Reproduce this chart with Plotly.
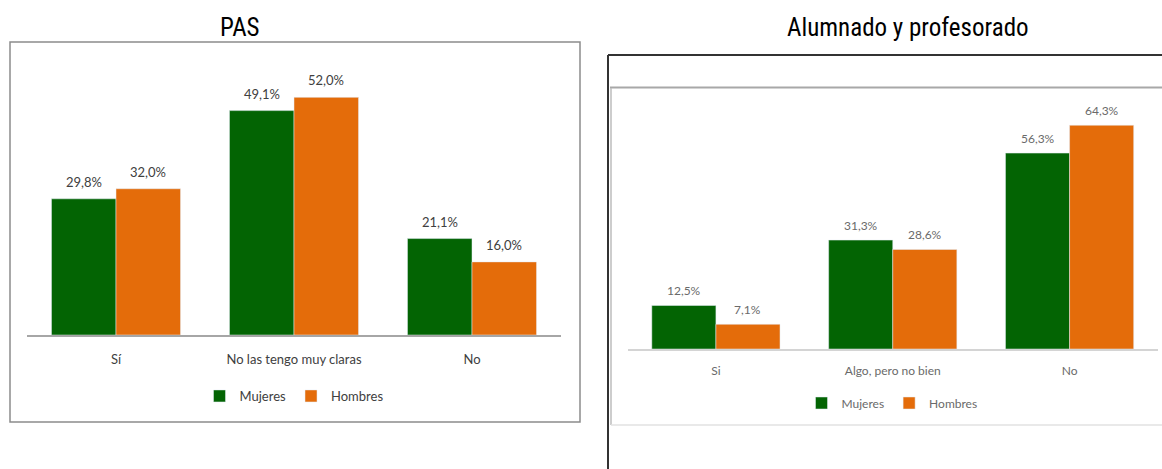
import plotly.graph_objects as go

W, H = 1162, 469

cats_pas = ["Sí", "No las tengo muy claras", "No"]
mujeres_pas = [29.8, 49.1, 21.1]
hombres_pas = [32.0, 52.0, 16.0]

cats_alu = ["Si", "Algo, pero no bien", "No"]
mujeres_alu = [12.5, 31.3, 56.3]
hombres_alu = [7.1, 28.6, 64.3]

GREEN = "#036403"
ORANGE = "#E46C0A"
LBL = "Lato, 'Open Sans', sans-serif"
TITLE_FONT = "'Liberation Sans Narrow', 'Arial Narrow', 'Roboto Condensed', 'DejaVu Sans Condensed', sans-serif"


def px(x):
    return x / W


def py(y):
    return 1 - y / H


def fmt(v):
    return f"{v:.1f}%".replace(".", ",")


fig = go.Figure()

# Left chart (PAS)
fig.add_trace(go.Bar(x=cats_pas, y=mujeres_pas, name="Mujeres", marker_color=GREEN,
                     xaxis="x", yaxis="y", legend="legend", hoverinfo="skip"))
fig.add_trace(go.Bar(x=cats_pas, y=hombres_pas, name="Hombres", marker_color=ORANGE,
                     xaxis="x", yaxis="y", legend="legend", hoverinfo="skip"))
# Right chart
fig.add_trace(go.Bar(x=cats_alu, y=mujeres_alu, name="Mujeres", marker_color=GREEN,
                     xaxis="x2", yaxis="y2", legend="legend2", hoverinfo="skip"))
fig.add_trace(go.Bar(x=cats_alu, y=hombres_alu, name="Hombres", marker_color=ORANGE,
                     xaxis="x2", yaxis="y2", legend="legend2", hoverinfo="skip"))

annotations = []
for cats, m, h, xr, yr, col, ys, sz in [
    (cats_pas, mujeres_pas, hombres_pas, "x", "y", "#404040", 17, 13),
    (cats_alu, mujeres_alu, hombres_alu, "x2", "y2", "#6a6a6a", 15, 12),
]:
    for c, vm, vh in zip(cats, m, h):
        annotations.append(dict(x=c, y=vm, xref=xr, yref=yr, text=fmt(vm), showarrow=False,
                                xanchor="center", yanchor="middle",
                                xshift=-32, yshift=ys, font=dict(family=LBL, size=sz, color=col)))
        annotations.append(dict(x=c, y=vh, xref=xr, yref=yr, text=fmt(vh), showarrow=False,
                                xanchor="center", yanchor="middle",
                                xshift=32, yshift=ys, font=dict(family=LBL, size=sz, color=col)))

annotations.append(dict(x=px(240), y=py(27), xref="paper", yref="paper", text="PAS",
                        xanchor="center", yanchor="middle",
                        showarrow=False, font=dict(family=TITLE_FONT, size=25, color="black")))
annotations.append(dict(x=px(908), y=py(28), xref="paper", yref="paper", text="Alumnado y profesorado",
                        xanchor="center", yanchor="middle",
                        showarrow=False, font=dict(family=TITLE_FONT, size=25, color="black")))

shapes = [
    # left box
    dict(type="rect", xref="paper", yref="paper", x0=px(10), x1=px(580), y0=py(422), y1=py(42),
         line=dict(color="#8c8c8c", width=1.5), layer="below"),
    # right frame
    dict(type="line", xref="paper", yref="paper", x0=px(608), x1=px(1162), y0=py(55), y1=py(55),
         line=dict(color="#333333", width=2)),
    dict(type="line", xref="paper", yref="paper", x0=px(608), x1=px(608), y0=py(55), y1=py(469),
         line=dict(color="#333333", width=2)),
    dict(type="line", xref="paper", yref="paper", x0=px(610), x1=px(1162), y0=py(87.5), y1=py(87.5),
         line=dict(color="#a8a8a8", width=2)),
    dict(type="line", xref="paper", yref="paper", x0=px(611), x1=px(611), y0=py(88), y1=py(425),
         line=dict(color="#bdbdbd", width=1.5)),
    dict(type="line", xref="paper", yref="paper", x0=px(611), x1=px(1162), y0=py(425), y1=py(425),
         line=dict(color="#e2e2e2", width=1.5)),
]

fig.update_layout(
    width=W, height=H,
    margin=dict(l=0, r=0, t=0, b=0),
    paper_bgcolor="white", plot_bgcolor="rgba(0,0,0,0)",
    barmode="group", bargap=0.275, bargroupgap=0,
    showlegend=True,
    annotations=annotations,
    shapes=shapes,
    xaxis=dict(domain=[px(27), px(561)], anchor="y", showline=True, linecolor="#a6a6a6", linewidth=1.5,
               ticks="", showgrid=False, zeroline=False, ticklabelstandoff=12,
               tickfont=dict(family=LBL, size=13, color="#404040"), fixedrange=True),
    yaxis=dict(domain=[py(335), py(50)], anchor="x", range=[0, (335 - 50) / 4.57], visible=False,
               fixedrange=True),
    xaxis2=dict(domain=[px(627.5), px(1158)], anchor="y2", showline=True, linecolor="#d4d4d4", linewidth=2,
                ticks="", showgrid=False, zeroline=False, ticklabelstandoff=10,
                tickfont=dict(family=LBL, size=12, color="#6a6a6a"), fixedrange=True),
    yaxis2=dict(domain=[py(349), py(100)], anchor="x2", range=[0, (349 - 100) / 3.48], visible=False,
                fixedrange=True),
    legend=dict(orientation="h", x=px(294), y=py(396), xanchor="center", yanchor="middle",
                font=dict(family=LBL, size=13, color="#404040"), itemwidth=30,
                bgcolor="rgba(0,0,0,0)", traceorder="normal"),
    legend2=dict(orientation="h", x=px(892), y=py(403), xanchor="center", yanchor="middle",
                 font=dict(family=LBL, size=12, color="#6a6a6a"), itemwidth=30,
                 bgcolor="rgba(0,0,0,0)", traceorder="normal"),
)

fig.write_html("out.html", config={"displayModeBar": False},
               post_script="document.body.style.margin='0';document.body.style.overflow='hidden';")
